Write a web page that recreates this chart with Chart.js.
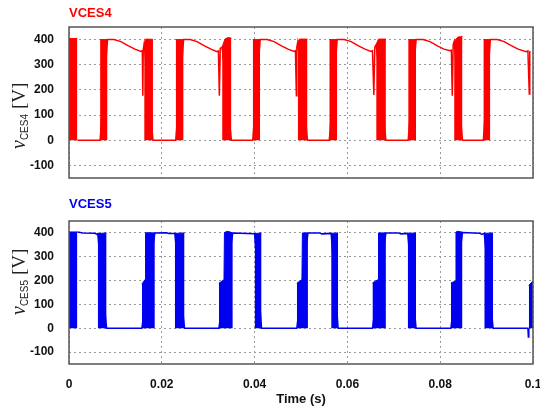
<!DOCTYPE html>
<html>
<head>
<meta charset="utf-8">
<script src="https://cdn.jsdelivr.net/npm/chart.js@4/dist/chart.umd.min.js"></script>
<style>
  html, body { margin: 0; padding: 0; background: #fff; }
  #wrap { position: relative; width: 540px; height: 410px; }
  .box { position: absolute; left: 0; width: 540px; }
</style>
</head>
<body>
<div id="wrap">
  <div class="box" style="top:0;height:190px"><canvas id="top"></canvas></div>
  <div class="box" style="top:190px;height:220px"><canvas id="bottom"></canvas></div>
</div>
<script>
// axis ticks
const xTicks = [0, 0.02, 0.04, 0.06, 0.08, 0.1];
const xTickLabels = ["0", "0.02", "0.04", "0.06", "0.08", "0.1"];
const yTicks = [-100, 0, 100, 200, 300, 400];

// VCES4: switching bands (top edge of each filled block, filled down to 0), [time, volts]
const redBands = [
  [[0, 404], [0.0018, 404]],
  [[0.0067, 400], [0.0083, 400]],
  [[0.0162, 384], [0.0166, 402], [0.0181, 401]],
  [[0.023, 400], [0.0247, 400]],
  [[0.033, 370], [0.0336, 402], [0.0342, 408], [0.035, 406]],
  [[0.0396, 400], [0.0412, 400]],
  [[0.0493, 390], [0.0497, 402], [0.0514, 402]],
  [[0.0561, 400], [0.0578, 400]],
  [[0.0662, 380], [0.0667, 402], [0.0683, 402]],
  [[0.0731, 400], [0.0748, 400]],
  [[0.083, 392], [0.0838, 410], [0.0848, 412]],
  [[0.0893, 400], [0.0908, 400]]
];
// VCES4: thin trace between the bands
const redTrace = [
  [0.0018, 0], [0.0067, 0],
  [0.0083, 400], [0.0097, 400], [0.0112, 392], [0.0127, 376], [0.0142, 362], [0.0155, 353], [0.0158, 356], [0.0159, 177], [0.016, 360], [0.0162, 384],
  [0.0181, 0], [0.023, 0],
  [0.0247, 400], [0.0261, 400], [0.0276, 392], [0.0291, 376], [0.0306, 362], [0.0319, 352], [0.0322, 355], [0.0324, 177], [0.0326, 365], [0.033, 370],
  [0.035, 0], [0.0396, 0],
  [0.0412, 400], [0.0427, 400], [0.0442, 392], [0.0457, 376], [0.0472, 362], [0.0485, 353], [0.0488, 356], [0.049, 177], [0.0491, 370], [0.0493, 390],
  [0.0514, 0], [0.0561, 0],
  [0.0578, 400], [0.0593, 400], [0.0608, 392], [0.0623, 376], [0.0638, 362], [0.0651, 353], [0.0654, 356], [0.0657, 180], [0.0659, 370], [0.0662, 380],
  [0.0683, 0], [0.0731, 0],
  [0.0748, 400], [0.0763, 400], [0.0778, 392], [0.0793, 376], [0.0808, 362], [0.0821, 356], [0.0824, 358], [0.0826, 177], [0.0828, 380], [0.083, 392],
  [0.0848, 0], [0.0893, 0],
  [0.0908, 400], [0.0923, 400], [0.0938, 392], [0.0953, 376], [0.0968, 362], [0.0985, 352], [0.0989, 355], [0.0992, 184], [0.0993, 355]
];

// VCES5
const blueBands = [
  [[0, 404], [0.0018, 404]],
  [[0.0062, 397], [0.0081, 400]],
  [[0.0157, 185], [0.0164, 205], [0.0165, 401], [0.0185, 400]],
  [[0.0228, 398], [0.0249, 400]],
  [[0.0323, 189], [0.0334, 204], [0.0335, 402], [0.0342, 407], [0.0353, 400]],
  [[0.04, 397], [0.0415, 400]],
  [[0.0491, 189], [0.0502, 204], [0.0503, 400], [0.0515, 400]],
  [[0.0565, 398], [0.058, 400]],
  [[0.0654, 190], [0.0666, 204], [0.0667, 400], [0.0683, 400]],
  [[0.073, 398], [0.0748, 400]],
  [[0.0823, 190], [0.0833, 198], [0.0834, 404], [0.0838, 407], [0.0848, 403]],
  [[0.0895, 398], [0.0914, 400]],
  [[0.0991, 180], [0.1, 199]]
];
const blueTrace = [
  [0.0018, 404], [0.003, 400], [0.0055, 399], [0.006, 394], [0.0062, 397],
  [0.0081, 0], [0.0157, 0],
  [0.0185, 400], [0.021, 401], [0.0215, 398], [0.0228, 398],
  [0.0249, 0], [0.0323, 0],
  [0.0353, 400], [0.04, 397],
  [0.0415, 0], [0.0491, 0],
  [0.0515, 400], [0.054, 400], [0.0545, 396], [0.0565, 398],
  [0.058, 0], [0.0654, 0],
  [0.0683, 400], [0.071, 400], [0.0715, 396], [0.073, 398],
  [0.0748, 0], [0.0823, 0],
  [0.0848, 402], [0.0885, 399], [0.089, 394], [0.0895, 398],
  [0.0914, 0], [0.0989, 0], [0.099, -37], [0.0991, 0]
];

function bandData(bands) {
  const out = [];
  bands.forEach((b, i) => {
    if (i > 0) out.push({ x: b[0][0], y: null });
    b.forEach(p => out.push({ x: p[0], y: p[1] }));
  });
  return out;
}

const frame = {
  id: "frame",
  afterDraw(chart, args, opts) {
    const { ctx, chartArea: a } = chart;
    ctx.save();
    ctx.strokeStyle = "#555";
    ctx.lineWidth = 1.5;
    ctx.strokeRect(a.left, a.top, a.right - a.left, a.bottom - a.top);
    // rotated y label: v_CESn [V]
    ctx.translate(opts.x, opts.y);
    ctx.rotate(-Math.PI / 2);
    ctx.fillStyle = "#222";
    ctx.textBaseline = "alphabetic";
    let x = 0;
    ctx.font = 'italic 20px "Liberation Serif"';
    ctx.fillText("v", x, 0);
    x += ctx.measureText("v").width;
    ctx.font = '10px "Liberation Sans"';
    ctx.fillText(opts.sub, x, 3);
    x += ctx.measureText(opts.sub).width + 5;
    ctx.font = '19px "Liberation Serif"';
    ctx.fillText("[V]", x, 0);
    ctx.restore();
  }
};

function makeChart(id, color, title, sub, bands, trace, bottom) {
  return new Chart(document.getElementById(id), {
    type: "line",
    plugins: [frame],
    data: {
      datasets: [
        {
          data: bandData(bands),
          borderColor: color,
          backgroundColor: color,
          borderWidth: 1,
          pointRadius: 0,
          fill: { value: 0 },
          spanGaps: false
        },
        {
          data: trace.map(p => ({ x: p[0], y: p[1] })),
          borderColor: color,
          borderWidth: 1.5,
          pointRadius: 0,
          fill: false
        }
      ]
    },
    options: {
      responsive: true,
      maintainAspectRatio: false,
      animation: false,
      layout: { padding: { left: 0, right: 7, top: 0, bottom: bottom ? 0 : 12 } },
      plugins: {
        legend: { display: false },
        tooltip: { enabled: false },
        title: {
          display: true,
          text: title,
          align: "start",
          fullSize: false,
          color: color,
          font: { family: "Liberation Sans", size: 13, weight: "bold" },
          padding: bottom ? { top: 7, bottom: 8.4 } : { top: 6, bottom: 5.4 }
        },
        frame: { x: 25, y: bottom ? 125 : 149, sub: sub }
      },
      scales: {
        x: {
          type: "linear",
          min: 0,
          max: 0.1,
          afterBuildTicks: s => { s.ticks = xTicks.map(v => ({ value: v })); },
          afterFit: s => { s.height = bottom ? 46 : 0; s.paddingLeft = 0; s.paddingRight = 0; },
          grid: { color: "#999", lineWidth: 1, drawTicks: false },
          border: { display: false, dash: [2, 3] },
          ticks: {
            display: bottom,
            padding: 13,
            color: "#111",
            font: { family: "Liberation Sans", size: 12, weight: "bold" },
            maxRotation: 0,
            autoSkip: false,
            callback: (v, i) => xTickLabels[i]
          },
          title: {
            display: bottom,
            text: "Time (s)",
            color: "#111",
            font: { family: "Liberation Sans", size: 13, weight: "bold" },
            padding: { top: 0, bottom: 3 }
          }
        },
        y: {
          min: -150,
          max: 450,
          afterBuildTicks: s => { s.ticks = yTicks.map(v => ({ value: v })); },
          afterFit: s => { s.width = 69; s.paddingTop = 0; s.paddingBottom = 0; },
          grid: { color: "#999", lineWidth: 1, drawTicks: false },
          border: { display: false, dash: [2, 3] },
          ticks: {
            padding: 15,
            color: "#111",
            font: { family: "Liberation Sans", size: 12, weight: "bold" }
          }
        }
      }
    }
  });
}

makeChart("top", "#ff0000", "VCES4", "CES4", redBands, redTrace, false);
makeChart("bottom", "#0000f0", "VCES5", "CES5", blueBands, blueTrace, true);
</script>
</body>
</html>
